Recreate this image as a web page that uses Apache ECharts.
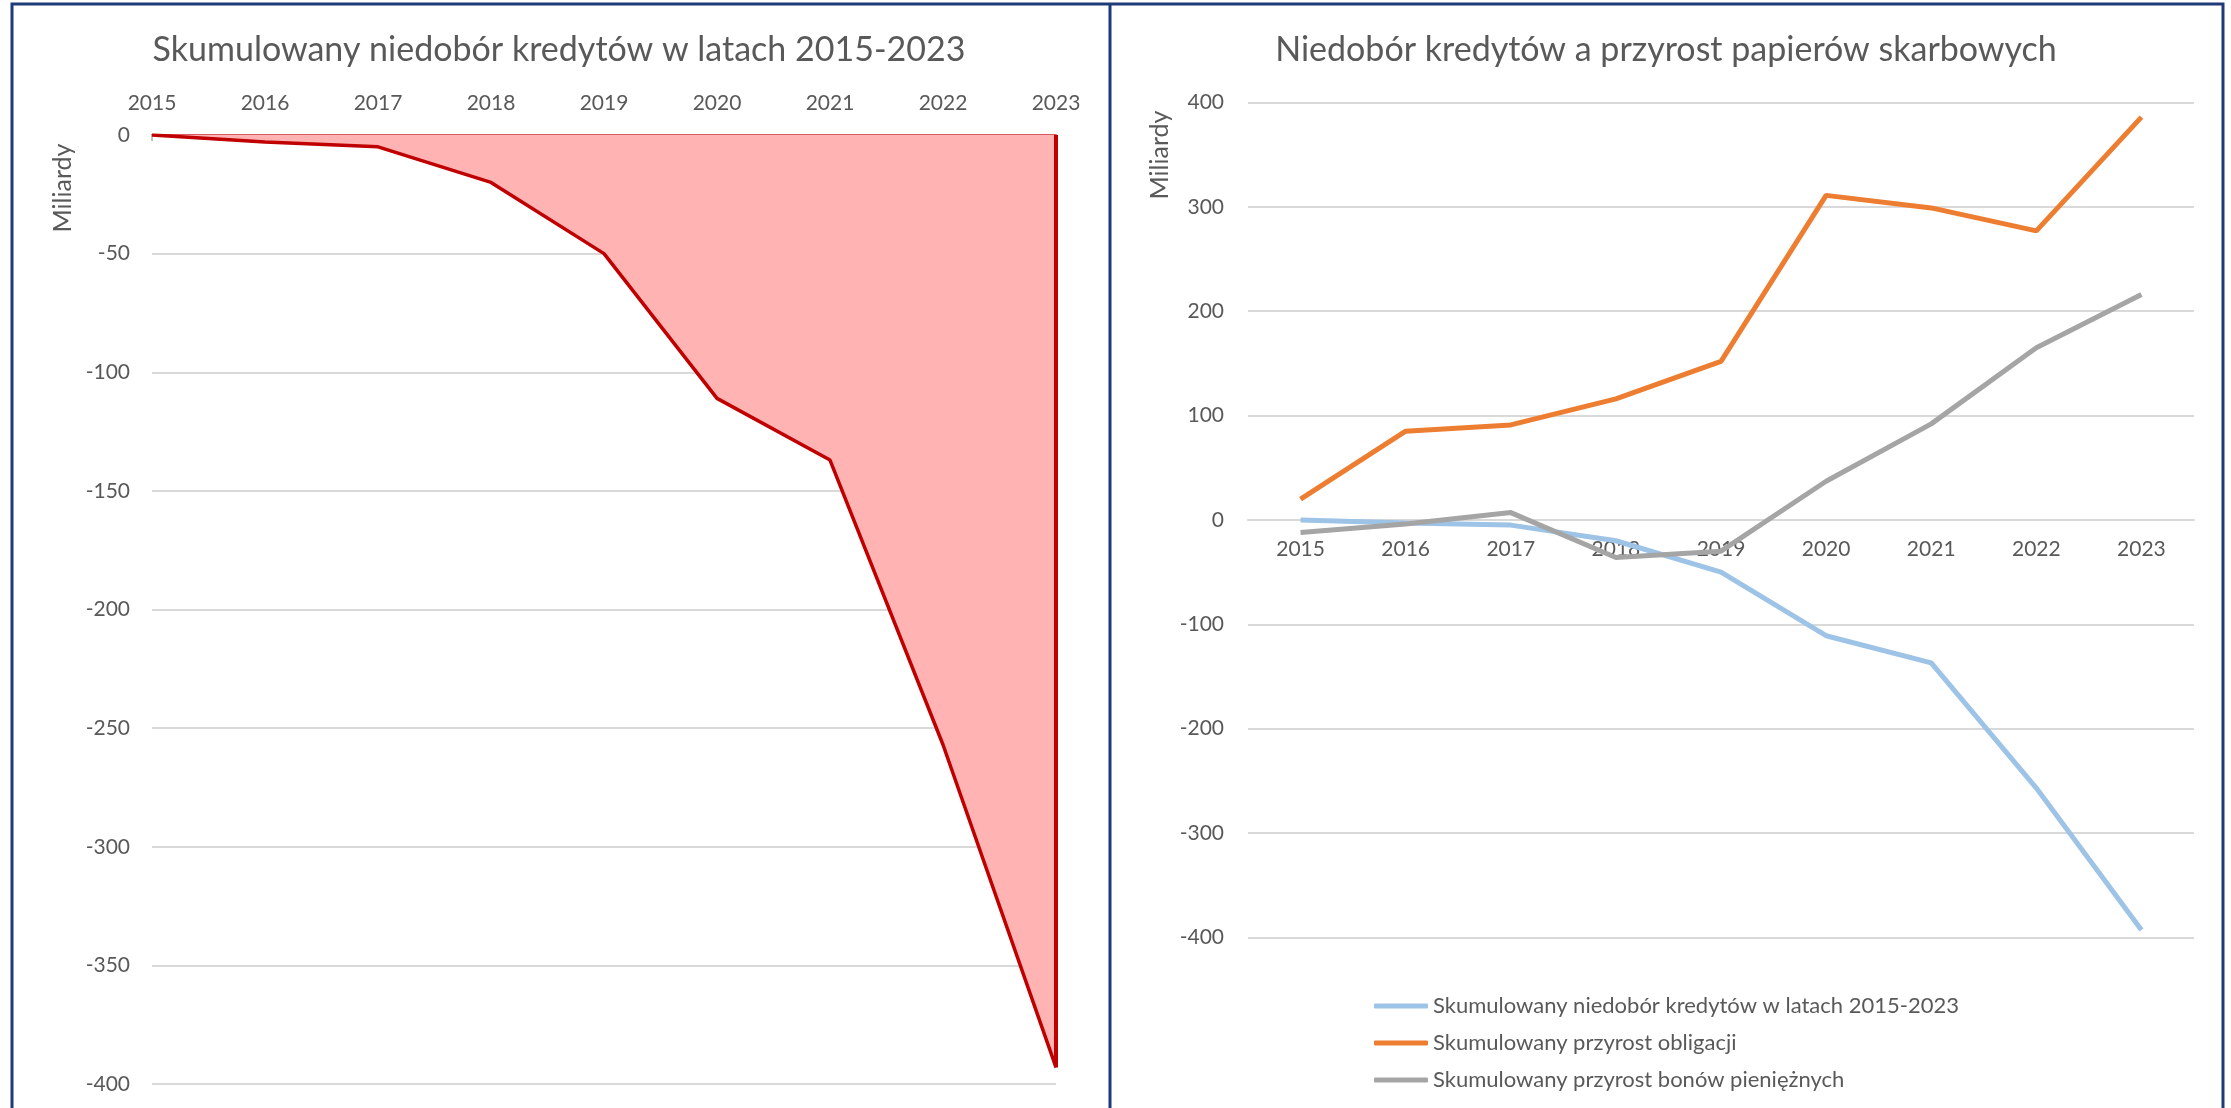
<!DOCTYPE html>
<html>
<head>
<meta charset="utf-8">
<script src="https://cdn.jsdelivr.net/npm/echarts@6/dist/echarts.min.js"></script>
<style>
  html, body { margin: 0; padding: 0; background: #fff; }
  #chart { width: 2231px; height: 1108px; }
</style>
</head>
<body>
<div id="chart"></div>
<script>
(function () {

    var years = ['2015', '2016', '2017', '2018', '2019', '2020', '2021', '2022', '2023'];
    // skumulowany niedobór kredytów (mld)
    var deficit = [0, -3, -5, -20, -50, -111, -137, -257, -393];
    // skumulowany przyrost obligacji (mld)
    var bonds = [20, 85, 91, 116, 152, 311, 299, 277, 386];
    // skumulowany przyrost bonów pieniężnych (mld)
    var bills = [-12, -4, 7, -36, -30, 37, 92, 165, 216];

    var leftTitle = 'Skumulowany niedobór kredytów w latach 2015-2023';
    var rightTitle = 'Niedobór kredytów a przyrost papierów skarbowych';
    var seriesNames = [
        'Skumulowany niedobór kredytów w latach 2015-2023',
        'Skumulowany przyrost obligacji',
        'Skumulowany przyrost bonów pieniężnych'
    ];

    var font = 'Lato, "Open Sans", sans-serif';
    var txt = '#595959';
    var grid = '#D9D9D9';
    var navy = '#1F3A78';

    // right grid, the category axis sits on y = 0
    var gridR = { left: 1248, right: 37, top: 102.5, bottom: 170.7 };
    var rMin = -400, rMax = 400;
    var rHeight = 1108 - gridR.top - gridR.bottom;
    var zeroOffset = -rHeight * (0 - rMin) / (rMax - rMin);

    var option = {
        backgroundColor: '#fff',
        animation: false,
        textStyle: { fontFamily: font },
        grid: [
            { left: 152, right: 1175, top: 135, bottom: 24 },
            gridR
        ],
        xAxis: [
            {
                gridIndex: 0,
                type: 'category',
                data: years,
                position: 'top',
                boundaryGap: false,
                axisLine: { lineStyle: { color: '#D65A5E', width: 2 } },
                axisTick: { inside: true, length: 6, lineStyle: { color: '#BFBFBF', width: 2 } },
                axisLabel: { color: txt, fontSize: 21, margin: 21, fontFamily: font }
            },
            {
                gridIndex: 1,
                type: 'category',
                data: years,
                boundaryGap: true,
                position: 'bottom',
                offset: zeroOffset,
                axisLine: { onZero: false, lineStyle: { color: grid, width: 2 } },
                axisTick: { length: 8, lineStyle: { color: grid, width: 2 } },
                axisLabel: { color: txt, fontSize: 21, margin: 19, fontFamily: font }
            }
        ],
        yAxis: [
            {
                gridIndex: 0,
                type: 'value',
                min: -400,
                max: 0,
                interval: 50,
                axisLine: { show: false },
                axisTick: { show: false },
                axisLabel: { color: txt, fontSize: 21, margin: 22, fontFamily: font },
                splitLine: { lineStyle: { color: grid, width: 2 } }
            },
            {
                gridIndex: 1,
                type: 'value',
                min: rMin,
                max: rMax,
                interval: 100,
                axisLine: { show: false },
                axisTick: { show: false },
                axisLabel: { color: txt, fontSize: 21, margin: 24, fontFamily: font },
                splitLine: { lineStyle: { color: grid, width: 2 } }
            }
        ],
        legend: {
            orient: 'vertical',
            left: 1369,
            top: 990,
            itemWidth: 54,
            itemHeight: 5,
            itemGap: 15,
            icon: 'roundRect',
            textStyle: { color: txt, fontSize: 22, fontFamily: font },
            data: seriesNames
        },
        series: [
            {
                type: 'line',
                xAxisIndex: 0,
                yAxisIndex: 0,
                data: deficit,
                symbol: 'none',
                lineStyle: { color: '#C00000', width: 3.5 },
                areaStyle: { color: '#FFB3B3', opacity: 1 },
                markLine: {
                    silent: true,
                    symbol: 'none',
                    label: { show: false },
                    lineStyle: { color: '#C00000', width: 4, type: 'solid' },
                    data: [[
                        { coord: [years[years.length - 1], 0] },
                        { coord: [years[years.length - 1], deficit[deficit.length - 1]] }
                    ]]
                }
            },
            {
                name: seriesNames[0],
                type: 'line',
                xAxisIndex: 1,
                yAxisIndex: 1,
                data: deficit,
                symbol: 'none',
                color: '#9DC3E6',
                lineStyle: { color: '#9DC3E6', width: 5 }
            },
            {
                name: seriesNames[1],
                type: 'line',
                xAxisIndex: 1,
                yAxisIndex: 1,
                data: bonds,
                symbol: 'none',
                color: '#ED7D31',
                lineStyle: { color: '#ED7D31', width: 5 }
            },
            {
                name: seriesNames[2],
                type: 'line',
                xAxisIndex: 1,
                yAxisIndex: 1,
                data: bills,
                symbol: 'none',
                color: '#A5A5A5',
                lineStyle: { color: '#A5A5A5', width: 5 }
            }
        ],
        graphic: [
            {
                type: 'text', x: 559, y: 50,
                style: { text: leftTitle, fill: txt, font: '34px ' + font, align: 'center', verticalAlign: 'middle' }
            },
            {
                type: 'text', x: 1666, y: 50,
                style: { text: rightTitle, fill: txt, font: '34px ' + font, align: 'center', verticalAlign: 'middle' }
            },
            {
                type: 'text', x: 63, y: 188, rotation: Math.PI / 2,
                style: { text: 'Miliardy', fill: txt, font: '25px ' + font, align: 'center', verticalAlign: 'middle' }
            },
            {
                type: 'text', x: 1160, y: 155, rotation: Math.PI / 2,
                style: { text: 'Miliardy', fill: txt, font: '25px ' + font, align: 'center', verticalAlign: 'middle' }
            },
            {
                type: 'polyline',
                shape: { points: [[12, 1110], [12, 4], [2223, 4], [2223, 1110]] },
                style: { stroke: navy, lineWidth: 3, fill: null }
            },
            {
                type: 'line',
                shape: { x1: 1110, y1: 4, x2: 1110, y2: 1110 },
                style: { stroke: navy, lineWidth: 3 }
            }
        ]
    };

    var myChart = echarts.init(document.getElementById('chart'));
    myChart.setOption(option);

})();
</script>
</body>
</html>
